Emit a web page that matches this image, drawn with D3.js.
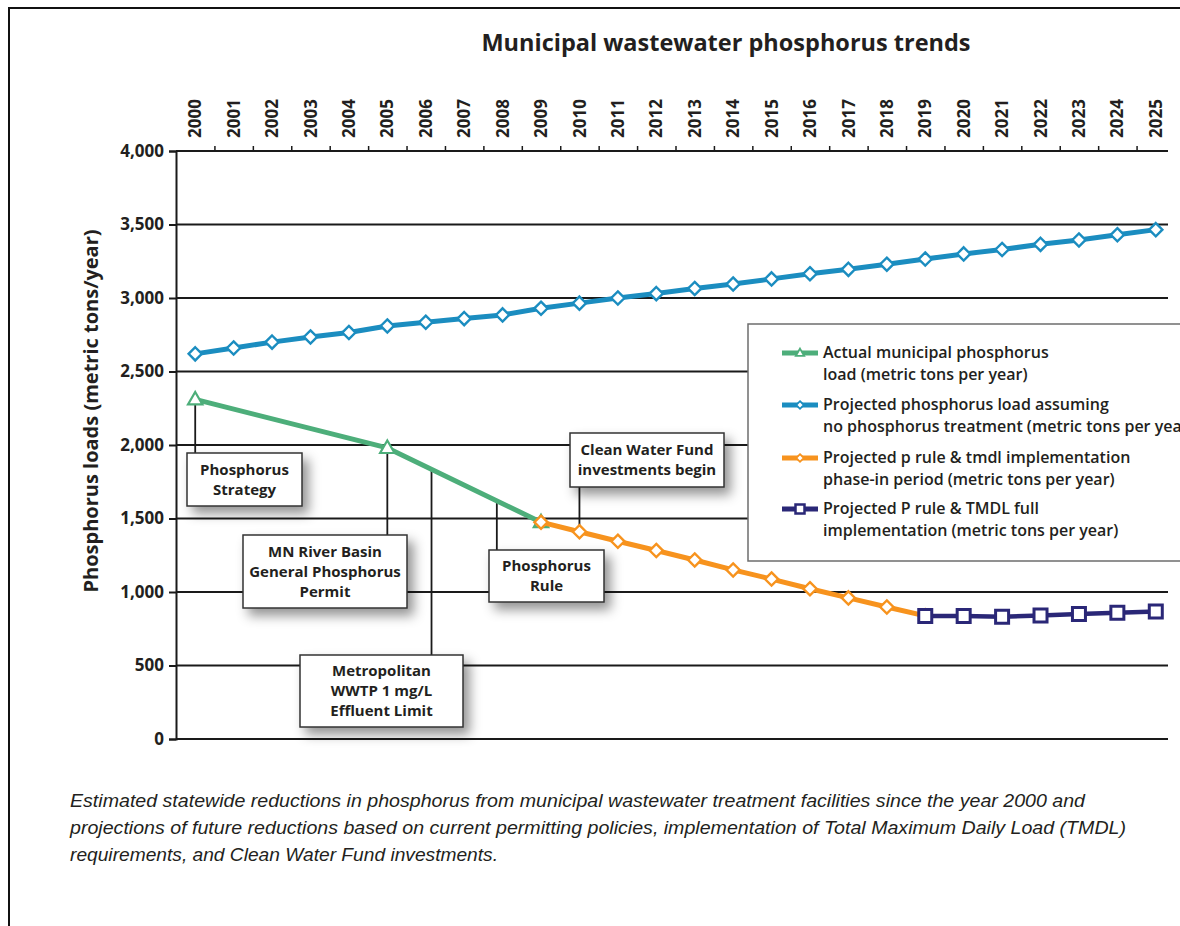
<!DOCTYPE html>
<html>
<head>
<meta charset="utf-8">
<script src="https://cdn.jsdelivr.net/npm/d3@7"></script>
<style>
  html, body { margin: 0; padding: 0; background: #fff; overflow: hidden; }
  svg { display: block; overflow: hidden; }
  text { font-family: "Open Sans", "Noto Sans", sans-serif; fill: #231f20; }
</style>
</head>
<body>
<div id="chart"></div>
<script>
"use strict";

// ---- data ----
var years = [2000, 2001, 2002, 2003, 2004, 2005, 2006, 2007, 2008, 2009, 2010, 2011, 2012,
             2013, 2014, 2015, 2016, 2017, 2018, 2019, 2020, 2021, 2022, 2023, 2024, 2025];
var yTicks = [0, 500, 1000, 1500, 2000, 2500, 3000, 3500, 4000];

var noTreatYears = years;
var noTreatValues = [2620, 2660, 2700, 2735, 2765, 2810, 2835, 2860, 2885, 2930, 2965, 3000, 3030,
                     3065, 3095, 3130, 3165, 3195, 3230, 3265, 3300, 3330, 3365, 3395, 3430, 3465];

var actualYears = [2000, 2005, 2009];
var actualValues = [2310, 1980, 1475];

var phaseYears = [2009, 2010, 2011, 2012, 2013, 2014, 2015, 2016, 2017, 2018, 2019];
var phaseValues = [1475, 1410, 1345, 1282, 1218, 1150, 1088, 1022, 960, 898, 838];

var fullYears = [2019, 2020, 2021, 2022, 2023, 2024, 2025];
var fullValues = [837, 837, 832, 840, 850, 859, 868];

var seriesNames = [
    ["Actual municipal phosphorus", "load (metric tons per year)"],
    ["Projected phosphorus load assuming", "no phosphorus treatment (metric tons per year)"],
    ["Projected p rule & tmdl implementation", "phase-in period (metric tons per year)"],
    ["Projected P rule & TMDL full", "implementation (metric tons per year)"]
];

// annotation texts and the year they point at
var noteTexts = [
    ["Phosphorus", "Strategy"],
    ["MN River Basin", "General Phosphorus", "Permit"],
    ["Metropolitan", "WWTP 1 mg/L", "Effluent Limit"],
    ["Phosphorus", "Rule"],
    ["Clean Water Fund", "investments begin"]
];
var noteYears = [2000, 2005, 2006.15, 2007.85, 2010];

var captionLines = [
    "Estimated statewide reductions in phosphorus from municipal wastewater treatment facilities since the year 2000 and",
    "projections of future reductions based on current permitting policies, implementation of Total Maximum Daily Load (TMDL)",
    "requirements, and Clean Water Fund investments."
];

// ---- layout ----
var W = 1180, H = 926;
var plotLeft = 176, plotRight = 1168, plotTop = 151, plotBottom = 739;

// box positions (pixels) for the annotation callouts
var noteBoxes = [
    { x: 187, y: 453, w: 115, h: 53, below: true },
    { x: 243, y: 535, w: 164, h: 73, below: true },
    { x: 300, y: 655, w: 163, h: 72, below: true },
    { x: 489, y: 550, w: 115, h: 52, below: true },
    { x: 570, y: 433, w: 154, h: 54, below: false }
];

var styles = [
    { color: "#4dae7a", symbol: "triangle", width: 5 },
    { color: "#1b8dc0", symbol: "diamond", width: 5 },
    { color: "#f7931e", symbol: "diamond", width: 5 },
    { color: "#2a2777", symbol: "square", width: 4.5 }
];

var svg = d3.select("#chart").append("svg")
    .attr("width", W)
    .attr("height", H);

var defs = svg.append("defs");
var shadow = defs.append("filter").attr("id", "shadow")
    .attr("x", "-30%").attr("y", "-30%").attr("width", "180%").attr("height", "190%");
shadow.append("feDropShadow")
    .attr("dx", 6).attr("dy", 7).attr("stdDeviation", 6)
    .attr("flood-color", "#000").attr("flood-opacity", 0.42);

// outer frame (open on the right and bottom, like the cropped original)
svg.append("path")
    .attr("d", "M9," + H + "V8H" + W)
    .attr("fill", "none").attr("stroke", "#111").attr("stroke-width", 2);

var x = d3.scaleLinear().domain([1999.5, 2025.5]).range([plotLeft, 1175]);
var y = d3.scaleLinear().domain([0, 4000]).range([plotBottom, plotTop]);

// title
svg.append("text")
    .attr("x", 726).attr("y", 51)
    .attr("text-anchor", "middle")
    .style("font-size", "23.5px").style("font-weight", 700)
    .text("Municipal wastewater phosphorus trends");

// gridlines
svg.append("g").selectAll("line")
    .data(yTicks)
    .enter().append("line")
    .attr("x1", plotLeft).attr("x2", plotRight)
    .attr("y1", function (d) { return y(d); })
    .attr("y2", function (d) { return y(d); })
    .attr("stroke", "#1a1a1a").attr("stroke-width", 2);

// y axis
var yAxis = svg.append("g")
    .attr("transform", "translate(" + plotLeft + ",0)")
    .call(d3.axisLeft(y).tickValues(yTicks).tickSize(7).tickPadding(5).tickFormat(d3.format(",")));
yAxis.select(".domain").attr("stroke", "#1a1a1a").attr("stroke-width", 2);
yAxis.selectAll(".tick line").attr("stroke", "#1a1a1a").attr("stroke-width", 2);
yAxis.selectAll("text")
    .style("font-size", "17px").style("font-weight", 700)
    .style("font-family", "'Open Sans', sans-serif").attr("fill", "#231f20");

// top axis: ticks on year boundaries, labels at year centers
var bounds = years.slice(1).map(function (d) { return d - 0.5; });
var xAxis = svg.append("g")
    .attr("transform", "translate(0," + plotTop + ")")
    .call(d3.axisTop(x).tickValues(bounds).tickSize(5).tickSizeOuter(0).tickFormat(""));
xAxis.select(".domain").attr("d", "M" + plotLeft + ",0H" + plotRight)
    .attr("stroke", "#1a1a1a").attr("stroke-width", 2);
xAxis.selectAll(".tick line").attr("stroke", "#1a1a1a").attr("stroke-width", 1.5);

svg.append("g").selectAll("text")
    .data(years)
    .enter().append("text")
    .attr("transform", function (d) { return "translate(" + x(d) + ",138) rotate(-90)"; })
    .attr("dy", "0.36em")
    .style("font-size", "17px").style("font-weight", 700)
    .text(function (d) { return d; });

// y axis title
svg.append("text")
    .attr("transform", "translate(98,411) rotate(-90)")
    .attr("text-anchor", "middle")
    .style("font-size", "20px").style("font-weight", 700)
    .text("Phosphorus loads (metric tons/year)");

// ---- series ----
var lineGen = d3.line()
    .x(function (d) { return x(d[0]); })
    .y(function (d) { return y(d[1]); });

function zip(a, b) { return a.map(function (v, i) { return [v, b[i]]; }); }

function symbolPath(kind, size) {
    if (kind === "triangle") {
        return "M0," + (-size * 0.62) + "L" + (size * 0.6) + "," + (size * 0.42) + "L" + (-size * 0.6) + "," + (size * 0.42) + "Z";
    }
    if (kind === "square") {
        var h = size * 0.5;
        return "M" + (-h) + "," + (-h) + "H" + h + "V" + h + "H" + (-h) + "Z";
    }
    var s = size * 0.55;
    return "M0," + (-s) + "L" + s + ",0L0," + s + "L" + (-s) + ",0Z";
}

var markerSize = { triangle: 12, diamond: 12, square: 13 };
var markerStroke = { triangle: 2.2, diamond: 2.4, square: 3 };

function drawSeries(pts, st) {
    var g = svg.append("g");
    g.append("path")
        .datum(pts)
        .attr("d", lineGen)
        .attr("fill", "none")
        .attr("stroke", st.color)
        .attr("stroke-width", st.width)
        .attr("stroke-linejoin", "round");
    g.selectAll("path.mk")
        .data(pts)
        .enter().append("path")
        .attr("class", "mk")
        .attr("transform", function (d) { return "translate(" + x(d[0]) + "," + y(d[1]) + ")"; })
        .attr("d", symbolPath(st.symbol, markerSize[st.symbol]))
        .attr("fill", "#fff")
        .attr("stroke", st.color)
        .attr("stroke-width", markerStroke[st.symbol]);
}

// connectors go under the series
var actualAt = d3.scaleLinear().domain(actualYears).range(actualValues);
var phaseAt = d3.scaleLinear().domain(phaseYears).range(phaseValues);
var connectors = svg.append("g");

drawSeries(zip(noTreatYears, noTreatValues), styles[1]);
drawSeries(zip(actualYears, actualValues), styles[0]);
drawSeries(zip(phaseYears, phaseValues), styles[2]);
drawSeries(zip(fullYears, fullValues), styles[3]);

noteYears.forEach(function (yr, i) {
    var b = noteBoxes[i];
    var py = b.below ? y(actualAt(yr)) : y(phaseAt(yr));
    connectors.append("line")
        .attr("x1", x(yr)).attr("x2", x(yr))
        .attr("y1", py)
        .attr("y2", b.below ? b.y : b.y + b.h)
        .attr("stroke", "#1a1a1a").attr("stroke-width", 1.8);
});

// ---- annotation boxes ----
var notes = svg.append("g").selectAll("g")
    .data(noteTexts)
    .enter().append("g");

notes.append("rect")
    .attr("x", function (d, i) { return noteBoxes[i].x; })
    .attr("y", function (d, i) { return noteBoxes[i].y; })
    .attr("width", function (d, i) { return noteBoxes[i].w; })
    .attr("height", function (d, i) { return noteBoxes[i].h; })
    .attr("fill", "#fff")
    .attr("stroke", "#333").attr("stroke-width", 1.5)
    .attr("filter", "url(#shadow)");

notes.each(function (lines, i) {
    var b = noteBoxes[i];
    var n = lines.length;
    d3.select(this).selectAll("text")
        .data(lines)
        .enter().append("text")
        .attr("x", b.x + b.w / 2)
        .attr("y", function (d, j) { return b.y + b.h / 2 + (j - (n - 1) / 2) * 20 + 5; })
        .attr("text-anchor", "middle")
        .style("font-size", "15px").style("font-weight", 700)
        .attr("fill", "#333")
        .text(function (d) { return d; });
});

// ---- legend ----
var legend = svg.append("g");
legend.append("rect")
    .attr("x", 748).attr("y", 324)
    .attr("width", 520).attr("height", 237)
    .attr("fill", "#fff")
    .attr("stroke", "#6d6d6d").attr("stroke-width", 1.5);

var legendBase = [358, 410, 463, 514];
var items = legend.selectAll("g.item")
    .data(seriesNames)
    .enter().append("g")
    .attr("class", "item");

items.append("line")
    .attr("x1", 782).attr("x2", 818)
    .attr("y1", function (d, i) { return legendBase[i] - 5; })
    .attr("y2", function (d, i) { return legendBase[i] - 5; })
    .attr("stroke", function (d, i) { return styles[i].color; })
    .attr("stroke-width", 5);

items.append("path")
    .attr("transform", function (d, i) { return "translate(800," + (legendBase[i] - 5) + ")"; })
    .attr("d", function (d, i) { return symbolPath(styles[i].symbol, styles[i].symbol === "square" ? 9 : 7); })
    .attr("fill", "#fff")
    .attr("stroke", function (d, i) { return styles[i].color; })
    .attr("stroke-width", function (d, i) { return styles[i].symbol === "square" ? 2.5 : 1.8; });

items.each(function (lines, i) {
    d3.select(this).selectAll("text")
        .data(lines)
        .enter().append("text")
        .attr("x", 823)
        .attr("y", function (d, j) { return legendBase[i] + j * 22; })
        .style("font-size", "16px").style("font-weight", 600)
        .attr("fill", "#2b2b2b")
        .text(function (d) { return d; });
});

// ---- caption ----
var capWidths = [1015, 1056, 428];
svg.append("g").selectAll("text")
    .data(captionLines)
    .enter().append("text")
    .attr("x", 70)
    .attr("y", function (d, i) { return 807 + i * 27; })
    .attr("textLength", function (d, i) { return capWidths[i]; })
    .attr("lengthAdjust", "spacingAndGlyphs")
    .style("font-size", "18px").style("font-style", "italic")
    .style("font-family", "'Liberation Sans Narrow', 'Liberation Sans', sans-serif")
    .attr("fill", "#333")
    .text(function (d) { return d; });
</script>
</body>
</html>
